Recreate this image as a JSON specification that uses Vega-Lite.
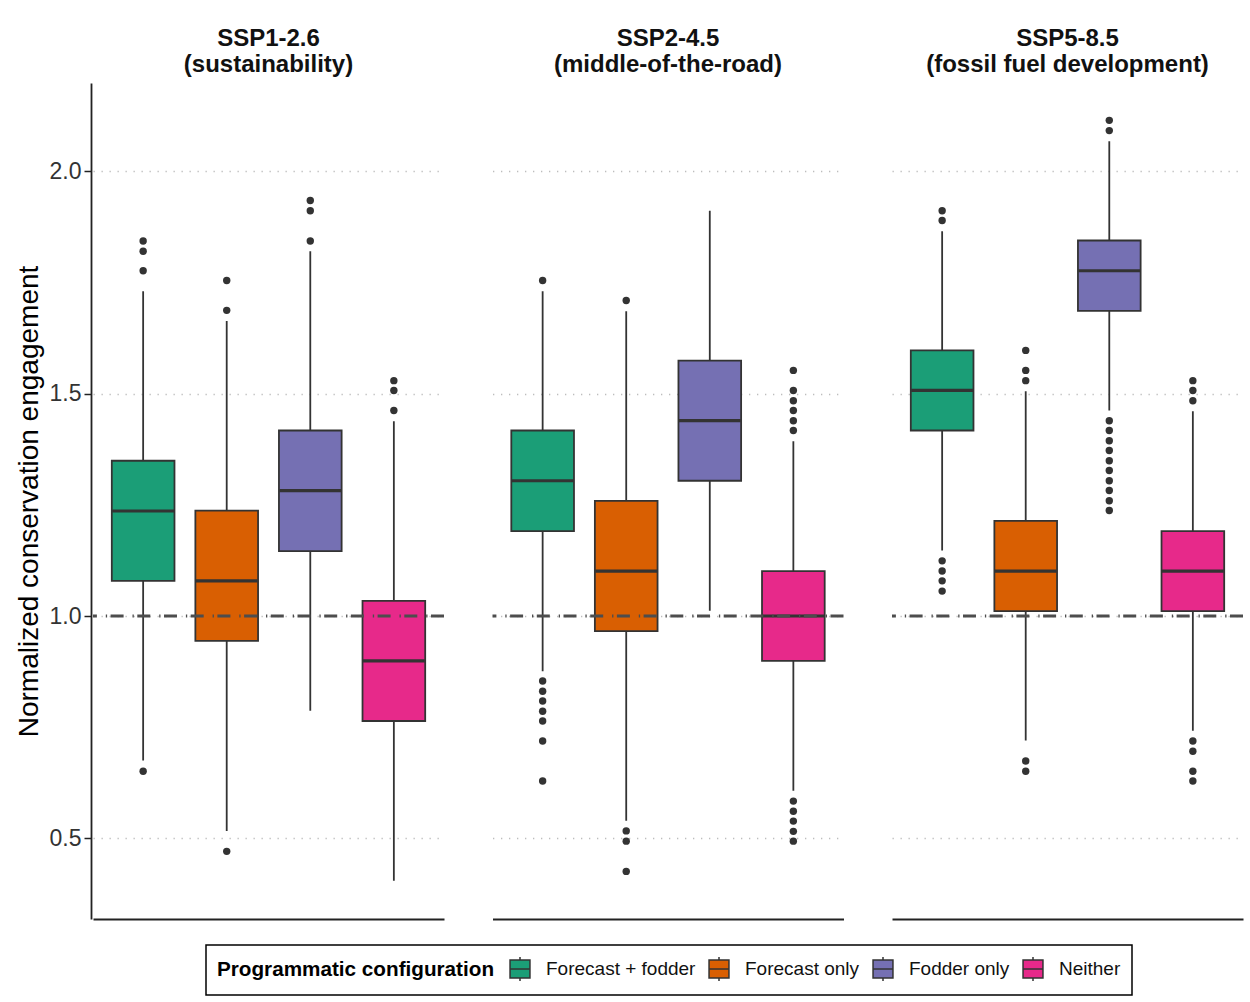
{
  "$schema": "https://vega.github.io/schema/vega-lite/v6.json",
  "padding": {"left": 15, "top": 27, "right": 5, "bottom": 5},
  "background": "white",
  "datasets": {
    "d": [
      {"s": "SSP1-2.6|(sustainability)", "c": "Forecast + fodder", "lo": 0.675, "q1": 1.079, "med": 1.236, "q3": 1.349, "hi": 1.730},
      {"s": "SSP1-2.6|(sustainability)", "c": "Forecast only", "lo": 0.517, "q1": 0.944, "med": 1.079, "q3": 1.237, "hi": 1.663},
      {"s": "SSP1-2.6|(sustainability)", "c": "Fodder only", "lo": 0.787, "q1": 1.146, "med": 1.282, "q3": 1.417, "hi": 1.820},
      {"s": "SSP1-2.6|(sustainability)", "c": "Neither", "lo": 0.405, "q1": 0.764, "med": 0.899, "q3": 1.034, "hi": 1.438},
      {"s": "SSP2-4.5|(middle-of-the-road)", "c": "Forecast + fodder", "lo": 0.876, "q1": 1.191, "med": 1.304, "q3": 1.417, "hi": 1.730},
      {"s": "SSP2-4.5|(middle-of-the-road)", "c": "Forecast only", "lo": 0.540, "q1": 0.966, "med": 1.101, "q3": 1.259, "hi": 1.685},
      {"s": "SSP2-4.5|(middle-of-the-road)", "c": "Fodder only", "lo": 1.012, "q1": 1.304, "med": 1.439, "q3": 1.574, "hi": 1.911},
      {"s": "SSP2-4.5|(middle-of-the-road)", "c": "Neither", "lo": 0.607, "q1": 0.899, "med": 1.000, "q3": 1.101, "hi": 1.393},
      {"s": "SSP5-8.5|(fossil fuel development)", "c": "Forecast + fodder", "lo": 1.147, "q1": 1.417, "med": 1.507, "q3": 1.597, "hi": 1.865},
      {"s": "SSP5-8.5|(fossil fuel development)", "c": "Forecast only", "lo": 0.720, "q1": 1.011, "med": 1.101, "q3": 1.214, "hi": 1.505},
      {"s": "SSP5-8.5|(fossil fuel development)", "c": "Fodder only", "lo": 1.462, "q1": 1.686, "med": 1.776, "q3": 1.844, "hi": 2.067},
      {"s": "SSP5-8.5|(fossil fuel development)", "c": "Neither", "lo": 0.742, "q1": 1.011, "med": 1.101, "q3": 1.191, "hi": 1.460},

      {"s": "SSP1-2.6|(sustainability)", "c": "Forecast + fodder", "v": 1.843},
      {"s": "SSP1-2.6|(sustainability)", "c": "Forecast + fodder", "v": 1.820},
      {"s": "SSP1-2.6|(sustainability)", "c": "Forecast + fodder", "v": 1.776},
      {"s": "SSP1-2.6|(sustainability)", "c": "Forecast + fodder", "v": 0.651},
      {"s": "SSP1-2.6|(sustainability)", "c": "Forecast only", "v": 1.754},
      {"s": "SSP1-2.6|(sustainability)", "c": "Forecast only", "v": 1.687},
      {"s": "SSP1-2.6|(sustainability)", "c": "Forecast only", "v": 0.471},
      {"s": "SSP1-2.6|(sustainability)", "c": "Fodder only", "v": 1.934},
      {"s": "SSP1-2.6|(sustainability)", "c": "Fodder only", "v": 1.911},
      {"s": "SSP1-2.6|(sustainability)", "c": "Fodder only", "v": 1.843},
      {"s": "SSP1-2.6|(sustainability)", "c": "Neither", "v": 1.529},
      {"s": "SSP1-2.6|(sustainability)", "c": "Neither", "v": 1.507},
      {"s": "SSP1-2.6|(sustainability)", "c": "Neither", "v": 1.462},

      {"s": "SSP2-4.5|(middle-of-the-road)", "c": "Forecast + fodder", "v": 1.754},
      {"s": "SSP2-4.5|(middle-of-the-road)", "c": "Forecast + fodder", "v": 0.854},
      {"s": "SSP2-4.5|(middle-of-the-road)", "c": "Forecast + fodder", "v": 0.831},
      {"s": "SSP2-4.5|(middle-of-the-road)", "c": "Forecast + fodder", "v": 0.809},
      {"s": "SSP2-4.5|(middle-of-the-road)", "c": "Forecast + fodder", "v": 0.786},
      {"s": "SSP2-4.5|(middle-of-the-road)", "c": "Forecast + fodder", "v": 0.764},
      {"s": "SSP2-4.5|(middle-of-the-road)", "c": "Forecast + fodder", "v": 0.719},
      {"s": "SSP2-4.5|(middle-of-the-road)", "c": "Forecast + fodder", "v": 0.629},
      {"s": "SSP2-4.5|(middle-of-the-road)", "c": "Forecast only", "v": 1.709},
      {"s": "SSP2-4.5|(middle-of-the-road)", "c": "Forecast only", "v": 0.517},
      {"s": "SSP2-4.5|(middle-of-the-road)", "c": "Forecast only", "v": 0.494},
      {"s": "SSP2-4.5|(middle-of-the-road)", "c": "Forecast only", "v": 0.426},
      {"s": "SSP2-4.5|(middle-of-the-road)", "c": "Neither", "v": 1.552},
      {"s": "SSP2-4.5|(middle-of-the-road)", "c": "Neither", "v": 1.507},
      {"s": "SSP2-4.5|(middle-of-the-road)", "c": "Neither", "v": 1.484},
      {"s": "SSP2-4.5|(middle-of-the-road)", "c": "Neither", "v": 1.462},
      {"s": "SSP2-4.5|(middle-of-the-road)", "c": "Neither", "v": 1.439},
      {"s": "SSP2-4.5|(middle-of-the-road)", "c": "Neither", "v": 1.417},
      {"s": "SSP2-4.5|(middle-of-the-road)", "c": "Neither", "v": 0.584},
      {"s": "SSP2-4.5|(middle-of-the-road)", "c": "Neither", "v": 0.561},
      {"s": "SSP2-4.5|(middle-of-the-road)", "c": "Neither", "v": 0.539},
      {"s": "SSP2-4.5|(middle-of-the-road)", "c": "Neither", "v": 0.516},
      {"s": "SSP2-4.5|(middle-of-the-road)", "c": "Neither", "v": 0.494},

      {"s": "SSP5-8.5|(fossil fuel development)", "c": "Forecast + fodder", "v": 1.911},
      {"s": "SSP5-8.5|(fossil fuel development)", "c": "Forecast + fodder", "v": 1.889},
      {"s": "SSP5-8.5|(fossil fuel development)", "c": "Forecast + fodder", "v": 1.124},
      {"s": "SSP5-8.5|(fossil fuel development)", "c": "Forecast + fodder", "v": 1.101},
      {"s": "SSP5-8.5|(fossil fuel development)", "c": "Forecast + fodder", "v": 1.079},
      {"s": "SSP5-8.5|(fossil fuel development)", "c": "Forecast + fodder", "v": 1.056},
      {"s": "SSP5-8.5|(fossil fuel development)", "c": "Forecast only", "v": 1.597},
      {"s": "SSP5-8.5|(fossil fuel development)", "c": "Forecast only", "v": 1.552},
      {"s": "SSP5-8.5|(fossil fuel development)", "c": "Forecast only", "v": 1.529},
      {"s": "SSP5-8.5|(fossil fuel development)", "c": "Forecast only", "v": 0.674},
      {"s": "SSP5-8.5|(fossil fuel development)", "c": "Forecast only", "v": 0.651},
      {"s": "SSP5-8.5|(fossil fuel development)", "c": "Fodder only", "v": 2.114},
      {"s": "SSP5-8.5|(fossil fuel development)", "c": "Fodder only", "v": 2.091},
      {"s": "SSP5-8.5|(fossil fuel development)", "c": "Fodder only", "v": 1.439},
      {"s": "SSP5-8.5|(fossil fuel development)", "c": "Fodder only", "v": 1.417},
      {"s": "SSP5-8.5|(fossil fuel development)", "c": "Fodder only", "v": 1.394},
      {"s": "SSP5-8.5|(fossil fuel development)", "c": "Fodder only", "v": 1.372},
      {"s": "SSP5-8.5|(fossil fuel development)", "c": "Fodder only", "v": 1.349},
      {"s": "SSP5-8.5|(fossil fuel development)", "c": "Fodder only", "v": 1.327},
      {"s": "SSP5-8.5|(fossil fuel development)", "c": "Fodder only", "v": 1.304},
      {"s": "SSP5-8.5|(fossil fuel development)", "c": "Fodder only", "v": 1.282},
      {"s": "SSP5-8.5|(fossil fuel development)", "c": "Fodder only", "v": 1.259},
      {"s": "SSP5-8.5|(fossil fuel development)", "c": "Fodder only", "v": 1.237},
      {"s": "SSP5-8.5|(fossil fuel development)", "c": "Neither", "v": 1.529},
      {"s": "SSP5-8.5|(fossil fuel development)", "c": "Neither", "v": 1.507},
      {"s": "SSP5-8.5|(fossil fuel development)", "c": "Neither", "v": 1.484},
      {"s": "SSP5-8.5|(fossil fuel development)", "c": "Neither", "v": 0.719},
      {"s": "SSP5-8.5|(fossil fuel development)", "c": "Neither", "v": 0.696},
      {"s": "SSP5-8.5|(fossil fuel development)", "c": "Neither", "v": 0.651},
      {"s": "SSP5-8.5|(fossil fuel development)", "c": "Neither", "v": 0.629}
    ]
  },
  "data": {"name": "d"},
  "facet": {
    "column": {
      "field": "s",
      "type": "nominal",
      "sort": ["SSP1-2.6|(sustainability)", "SSP2-4.5|(middle-of-the-road)", "SSP5-8.5|(fossil fuel development)"],
      "header": {
        "title": null,
        "labelExpr": "split(datum.value, '|')",
        "labelFont": "Liberation Sans",
        "labelFontSize": 24,
        "labelFontWeight": "bold",
        "labelColor": "#111111",
        "labelLineHeight": 26,
        "labelPadding": 6
      }
    }
  },
  "spacing": 44.5,
  "spec": {
    "width": 351,
    "height": 836,
    "layer": [
      {
        "transform": [{"filter": "isValid(datum.med)"}],
        "mark": {"type": "rule", "color": "#333333", "strokeWidth": 1.8},
        "encoding": {
          "x": {"field": "c", "type": "nominal", "title": null, "scale": {"domain": ["Forecast + fodder", "Forecast only", "Fodder only", "Neither"], "paddingInner": 0.25, "paddingOuter": 0.225}, "axis": {"labels": false, "ticks": false, "title": null, "domain": true, "domainColor": "#222222", "domainWidth": 1.8, "grid": false}},
          "y": {"field": "lo", "type": "quantitative", "title": "Normalized conservation engagement", "scale": {"domain": [0.319, 2.198], "nice": false, "zero": false}, "axis": {"values": [0.5, 1.0, 1.5, 2.0], "format": ".1f", "grid": true}},
          "y2": {"field": "hi"}
        }
      },
      {
        "transform": [{"filter": "isValid(datum.med)"}],
        "mark": {"type": "bar", "stroke": "#333333", "strokeWidth": 1.8, "opacity": 1},
        "encoding": {
          "x": {"field": "c", "type": "nominal", "title": null, "scale": {"domain": ["Forecast + fodder", "Forecast only", "Fodder only", "Neither"], "paddingInner": 0.25, "paddingOuter": 0.225}, "axis": {"labels": false, "ticks": false, "title": null, "domain": true, "domainColor": "#222222", "domainWidth": 1.8, "grid": false}},
          "y": {"field": "q1", "type": "quantitative", "title": "Normalized conservation engagement", "scale": {"domain": [0.319, 2.198], "nice": false, "zero": false}, "axis": {"values": [0.5, 1.0, 1.5, 2.0], "format": ".1f", "grid": true}},
          "y2": {"field": "q3"},
          "fill": {
            "field": "c",
            "type": "nominal",
            "title": "Programmatic configuration",
            "scale": {"domain": ["Forecast + fodder", "Forecast only", "Fodder only", "Neither"], "range": ["#1B9E77", "#D95F02", "#7570B3", "#E7298A"]}
          }
        }
      },
      {
        "transform": [{"filter": "isValid(datum.med)"}],
        "mark": {"type": "tick", "color": "#333333", "thickness": 3.2, "size": 62, "opacity": 1},
        "encoding": {
          "x": {"field": "c", "type": "nominal", "title": null, "scale": {"domain": ["Forecast + fodder", "Forecast only", "Fodder only", "Neither"], "paddingInner": 0.25, "paddingOuter": 0.225}, "axis": {"labels": false, "ticks": false, "title": null, "domain": true, "domainColor": "#222222", "domainWidth": 1.8, "grid": false}},
          "y": {"field": "med", "type": "quantitative", "title": "Normalized conservation engagement", "scale": {"domain": [0.319, 2.198], "nice": false, "zero": false}, "axis": {"values": [0.5, 1.0, 1.5, 2.0], "format": ".1f", "grid": true}}
        }
      },
      {
        "transform": [{"filter": "isValid(datum.v)"}],
        "mark": {"type": "point", "filled": true, "color": "#333333", "size": 55, "opacity": 1},
        "encoding": {
          "x": {"field": "c", "type": "nominal", "title": null, "scale": {"domain": ["Forecast + fodder", "Forecast only", "Fodder only", "Neither"], "paddingInner": 0.25, "paddingOuter": 0.225}, "axis": {"labels": false, "ticks": false, "title": null, "domain": true, "domainColor": "#222222", "domainWidth": 1.8, "grid": false}},
          "y": {"field": "v", "type": "quantitative", "title": "Normalized conservation engagement", "scale": {"domain": [0.319, 2.198], "nice": false, "zero": false}, "axis": {"values": [0.5, 1.0, 1.5, 2.0], "format": ".1f", "grid": true}}
        }
      },
      {
        "transform": [{"filter": "isValid(datum.med) && datum.c == 'Neither'"}],
        "mark": {"type": "rule", "color": "#4d4d4d", "strokeWidth": 3, "strokeDash": [13, 3.5, 1.3, 8.9]},
        "encoding": {
          "y": {"datum": 1, "type": "quantitative", "title": "Normalized conservation engagement", "scale": {"domain": [0.319, 2.198], "nice": false, "zero": false}, "axis": {"values": [0.5, 1.0, 1.5, 2.0], "format": ".1f", "grid": true}}
        }
      }
    ]
  },
  "config": {
    "font": "Liberation Sans",
    "view": {"stroke": null},
    "axisY": {
      "labelFont": "Liberation Sans",
      "labelFontSize": 23,
      "labelColor": "#333333",
      "labelPadding": 3,
      "titleFont": "Liberation Sans",
      "titleFontSize": 28,
      "titleFontWeight": "normal",
      "titleColor": "#000000",
      "titlePadding": 6,
      "tickSize": 7,
      "tickColor": "#222222",
      "tickWidth": 1.5,
      "domainColor": "#222222",
      "domainWidth": 1.8,
      "gridColor": "#bdbdbd",
      "gridDash": [1.3, 6.7],
      "gridWidth": 1.3
    },
    "legend": {
      "orient": "none",
      "legendX": 113,
      "legendY": 862,
      "direction": "horizontal",
      "titleOrient": "left",
      "titleLimit": 500,
      "strokeColor": "#000000",
      "strokeWidth": 1.5,
      "padding": 11,
      "titleFont": "Liberation Sans",
      "titleFontSize": 20.7,
      "titleFontWeight": "bold",
      "titleColor": "#000000",
      "titlePadding": 12,
      "labelFont": "Liberation Sans",
      "labelFontSize": 19,
      "labelColor": "#111111",
      "labelOffset": 13,
      "columnPadding": 10,
      "symbolType": "M-0.83,-0.75H0.83V0.75H-0.83Z M-0.83,0H0.83 M0,-0.75V-1 M0,0.75V1",
      "symbolSize": 576,
      "symbolStrokeColor": "#333333",
      "symbolStrokeWidth": 1.5,
      "symbolOpacity": 1
    }
  }
}
